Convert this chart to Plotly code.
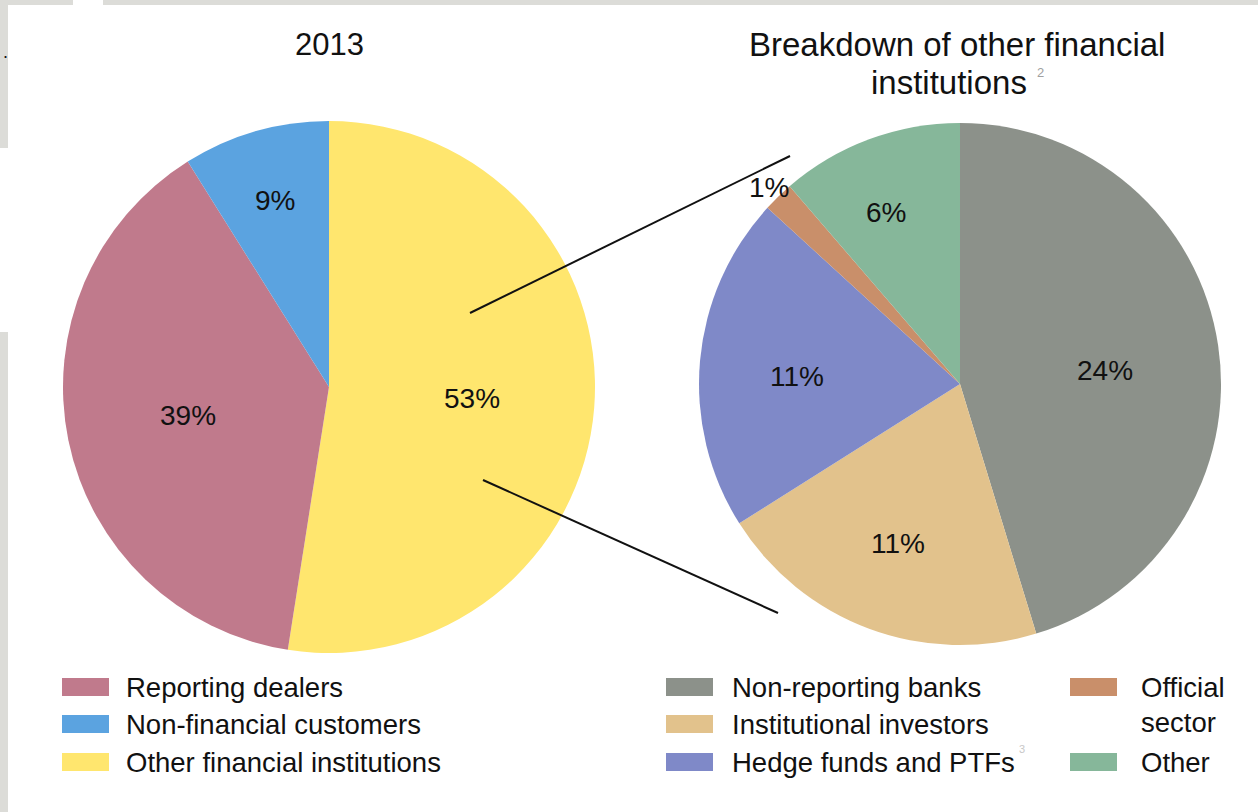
import math
import plotly.graph_objects as go

# ---------------- data ----------------
left_title = "2013"
left_labels = ["Other financial institutions", "Reporting dealers", "Non-financial customers"]
left_values = [53, 39, 9]
left_colors = ["#FFE66E", "#C07A8C", "#5BA3E0"]

right_title_lines = ["Breakdown of other financial", "institutions"]
right_title_note = "2"
right_labels = ["Non-reporting banks", "Institutional investors", "Hedge funds and PTFs",
                "Official sector", "Other"]
right_values = [24, 11, 11, 1, 6]
right_colors = ["#8C918A", "#E2C28C", "#7F89C8", "#C98F6A", "#86B79A"]

left_legend_names = ["Reporting dealers", "Non-financial customers", "Other financial institutions"]
left_legend_colors = ["#C07A8C", "#5BA3E0", "#FFE66E"]
right_legend_names = ["Non-reporting banks", "Institutional investors", "Hedge funds and PTFs"]
right_legend_colors = ["#8C918A", "#E2C28C", "#7F89C8"]
hedge_note = "3"
right_legend2_names = ["Official", "Other"]
right_legend2_colors = ["#C98F6A", "#86B79A"]
official_second_line = "sector"

# ---------------- layout constants ----------------
W, H = 1258, 812
FONT = "Liberation Sans, Arial, sans-serif"
INK = "#111111"

def px(x):
    return x / W

def py(y):
    return 1 - y / H

# pie geometry (pixels)
L_CX, L_CY, L_R = 329, 387, 266
R_CX, R_CY, R_R = 960, 384, 261

# label placement (style): radial factor and angular nudge in degrees
left_label_rf = [0.54, 0.54, 0.73]
left_label_da = [0, 0, 0]
right_label_rf = [0.56, 0.655, 0.625, 1.05, 0.715]
right_label_da = [3, 1, -2.5, 0, -3]

fig = go.Figure()

fig.add_trace(go.Pie(
    labels=left_labels, values=left_values,
    marker=dict(colors=left_colors, line=dict(width=0)),
    sort=False, direction="clockwise", rotation=0,
    textinfo="none", hoverinfo="label+value",
    domain=dict(x=[px(L_CX - L_R), px(L_CX + L_R)], y=[py(L_CY + L_R), py(L_CY - L_R)]),
    showlegend=False,
))
fig.add_trace(go.Pie(
    labels=right_labels, values=right_values,
    marker=dict(colors=right_colors, line=dict(width=0)),
    sort=False, direction="clockwise", rotation=0,
    textinfo="none", hoverinfo="label+value",
    domain=dict(x=[px(R_CX - R_R), px(R_CX + R_R)], y=[py(R_CY + R_R), py(R_CY - R_R)]),
    showlegend=False,
))

annotations = []
shapes = []

def add_text(x, y, text, size, color=INK, xanchor="center"):
    annotations.append(dict(x=px(x), y=py(y), xref="paper", yref="paper", text=text,
                            showarrow=False, font=dict(family=FONT, size=size, color=color),
                            xanchor=xanchor, yanchor="middle"))

def pie_labels(values, cx, cy, r, rfs, das):
    tot = sum(values)
    cum = 0
    for v, rf, da in zip(values, rfs, das):
        mid = (cum + v / 2) / tot * 2 * math.pi + math.radians(da)
        cum += v
        x = cx + rf * r * math.sin(mid)
        y = cy - rf * r * math.cos(mid)
        add_text(x, y, f"{v}%", 28)

pie_labels(left_values, L_CX, L_CY, L_R, left_label_rf, left_label_da)
pie_labels(right_values, R_CX, R_CY, R_R, right_label_rf, right_label_da)

# titles
add_text(L_CX, 45, left_title, 31)
add_text(957, 45, right_title_lines[0], 33)
add_text(949, 82, right_title_lines[1], 33)
add_text(1040, 72, right_title_note, 13, color="#a0a0a0")

# stray character at the left edge of the screenshot
add_text(5, 52, ".", 18)

# legends
LEG = 27.5

def legend(names, colors, sx0, sx1, tx, ys, h=18):
    for name, col, y in zip(names, colors, ys):
        shapes.append(dict(type="rect", xref="paper", yref="paper",
                           x0=px(sx0), x1=px(sx1), y0=py(y + h / 2), y1=py(y - h / 2),
                           fillcolor=col, line=dict(width=0)))
        add_text(tx, y, name, LEG, xanchor="left")

legend(left_legend_names, left_legend_colors, 62, 109, 124, [687, 724, 762])
legend(right_legend_names, right_legend_colors, 666, 713, 730, [687, 724, 762])
legend(right_legend2_names, right_legend2_colors, 1070, 1117, 1139, [687, 762])
add_text(1139, 722, official_second_line, LEG, xanchor="left")
add_text(1022, 749, hedge_note, 11, color="#c8c8c8")

# connector lines
shapes.append(dict(type="line", xref="paper", yref="paper", x0=px(470), y0=py(313),
                   x1=px(790), y1=py(156), line=dict(color=INK, width=2)))
shapes.append(dict(type="line", xref="paper", yref="paper", x0=px(483), y0=py(480),
                   x1=px(778), y1=py(613), line=dict(color=INK, width=2)))

# screenshot frame artifacts
GRAY = "#DCDCD8"
for x0, y0, x1, y1 in [(0, 0, 73, 5), (103, 0, W, 5), (0, 5, 8, 148), (0, 332, 8, H)]:
    shapes.append(dict(type="rect", xref="paper", yref="paper", x0=px(x0), x1=px(x1),
                       y0=py(y1), y1=py(y0), fillcolor=GRAY, line=dict(width=0), layer="below"))

fig.update_layout(
    width=W, height=H,
    margin=dict(l=0, r=0, t=0, b=0),
    paper_bgcolor="white", plot_bgcolor="white",
    annotations=annotations, shapes=shapes,
    showlegend=False,
)

fig.write_html("out.html", config={"displayModeBar": False},
               post_script="document.body.style.margin='0';")
